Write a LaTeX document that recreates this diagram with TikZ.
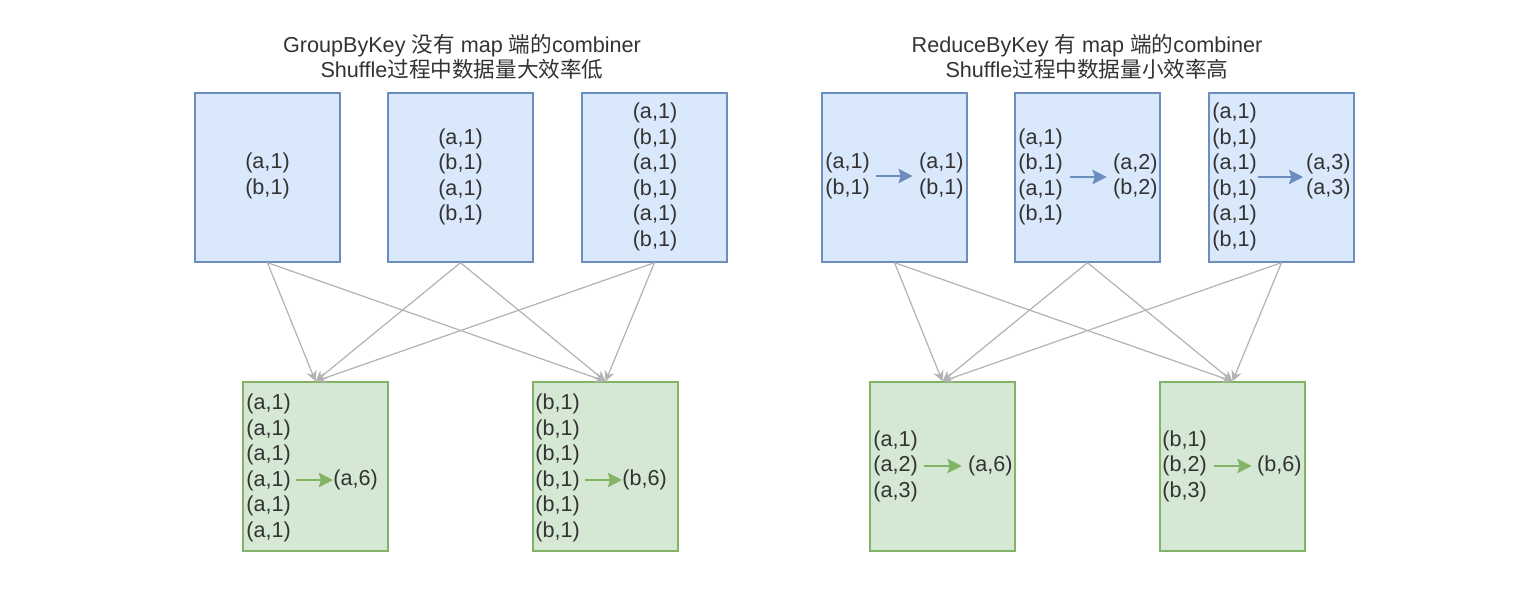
\documentclass[tikz,border=0pt]{standalone}
\usepackage{fontspec}
\setmainfont{Liberation Sans}
\newfontfamily\cjk{Noto Sans CJK SC}
\usetikzlibrary{arrows.meta}
\definecolor{mapfill}{HTML}{DAE8FC}
\definecolor{mapdraw}{HTML}{6C8EBF}
\definecolor{redfill}{HTML}{D5E8D4}
\definecolor{reddraw}{HTML}{82B366}
\definecolor{wire}{HTML}{B3B3B3}
\definecolor{txt}{HTML}{333333}
\begin{document}
\begin{tikzpicture}[x=0.02cm,y=-0.02cm,
  mapbox/.style={draw=mapdraw, fill=mapfill, line width=0.8pt, inner sep=0pt, minimum width=2.9cm, minimum height=3.38cm},
  redbox/.style={draw=reddraw, fill=redfill, line width=0.8pt, inner sep=0pt, minimum width=2.9cm, minimum height=3.38cm},
  pairs/.style={font=\fontsize{12.3pt}{14.5pt}\selectfont, align=left, inner sep=0pt, text=txt},
  title/.style={font=\fontsize{12.3pt}{14.3pt}\selectfont, align=center, inner sep=0pt, text=txt},
  shuffle/.style={draw=wire, line width=0.7pt, -{Stealth[length=6pt,width=6pt,inset=2pt]}},
  mapcomb/.style={draw=mapdraw, line width=1.6pt, -{Stealth[length=8pt,width=8pt,inset=1.2pt]}},
  redcomb/.style={draw=reddraw, line width=1.6pt, -{Stealth[length=8pt,width=8pt,inset=1.2pt]}}]
\useasboundingbox (0,0) rectangle (1531,595);
% groupByKey
\node[title] (gtitle) at (462,57) {GroupByKey {\cjk 没有} map {\cjk 端的}combiner\\Shuffle{\cjk 过程中数据量大效率低}};
\node[mapbox] (gm1) at (267.5,177.5) {};
\node[mapbox] (gm2) at (460.5,177.5) {};
\node[mapbox] (gm3) at (654.5,177.5) {};
\node[redbox] (gr1) at (315.5,466.5) {};
\node[redbox] (gr2) at (605.5,466.5) {};
\node[pairs] (gt1) at (267.5,176) {(a,1)\\(b,1)};
\node[pairs] (gt2) at (460.5,177) {(a,1)\\(b,1)\\(a,1)\\(b,1)};
\node[pairs] (gt3) at (655,177) {(a,1)\\(b,1)\\(a,1)\\(b,1)\\(a,1)\\(b,1)};
\node[pairs, anchor=west] (grl1) at (246,468) {(a,1)\\(a,1)\\(a,1)\\(a,1)\\(a,1)\\(a,1)};
\node[pairs, anchor=west] (grr1) at (333,480) {(a,6)};
\node[pairs, anchor=west] (grl2) at (535,468) {(b,1)\\(b,1)\\(b,1)\\(b,1)\\(b,1)\\(b,1)};
\node[pairs, anchor=west] (grr2) at (622,480) {(b,6)};
\draw[redcomb, shorten <=3pt] (grl1.east |- grr1.west) -- (grr1.west);
\draw[redcomb, shorten <=3pt] (grl2.east |- grr2.west) -- (grr2.west);
\foreach \m in {gm1,gm2,gm3}
  \foreach \r in {gr1,gr2}
    \draw[shuffle] (\m.south) -- (\r.north);
% reduceByKey
\node[title] (rtitle) at (1087,57) {ReduceByKey {\cjk 有} map {\cjk 端的}combiner\\Shuffle{\cjk 过程中数据量小效率高}};
\node[mapbox] (rm1) at (894.5,177.5) {};
\node[mapbox] (rm2) at (1087.5,177.5) {};
\node[mapbox] (rm3) at (1281.5,177.5) {};
\node[redbox] (rr1) at (942.5,466.5) {};
\node[redbox] (rr2) at (1232.5,466.5) {};
\node[pairs, anchor=west] (rml1) at (825,176) {(a,1)\\(b,1)};
\node[pairs, anchor=east] (rmr1) at (964,176) {(a,1)\\(b,1)};
\node[pairs, anchor=west] (rml2) at (1018,177) {(a,1)\\(b,1)\\(a,1)\\(b,1)};
\node[pairs, anchor=east] (rmr2) at (1158,176.5) {(a,2)\\(b,2)};
\node[pairs, anchor=west] (rml3) at (1212,177) {(a,1)\\(b,1)\\(a,1)\\(b,1)\\(a,1)\\(b,1)};
\node[pairs, anchor=east] (rmr3) at (1351,176.5) {(a,3)\\(a,3)};
\draw[mapcomb, shorten <=3.5pt, shorten >=3.5pt] (rml1.east) -- (rml1.east -| rmr1.west);
\draw[mapcomb, shorten <=4pt, shorten >=3.5pt] (rml2.east) -- (rml2.east -| rmr2.west);
\draw[mapcomb, shorten <=0.3pt, shorten >=1.5pt] (rml3.east) -- (rml3.east -| rmr3.west);
\node[pairs, anchor=west] (rrl1) at (873,466) {(a,1)\\(a,2)\\(a,3)};
\node[pairs, anchor=east] (rrr1) at (1013,466) {(a,6)};
\node[pairs, anchor=west] (rrl2) at (1162,466) {(b,1)\\(b,2)\\(b,3)};
\node[pairs, anchor=east] (rrr2) at (1302,466) {(b,6)};
\draw[redcomb, shorten <=3.5pt, shorten >=3.5pt] (rrl1.east) -- (rrr1.west);
\draw[redcomb, shorten <=4pt, shorten >=3pt] (rrl2.east) -- (rrr2.west);
\foreach \m in {rm1,rm2,rm3}
  \foreach \r in {rr1,rr2}
    \draw[shuffle] (\m.south) -- (\r.north);
\end{tikzpicture}
\end{document}
